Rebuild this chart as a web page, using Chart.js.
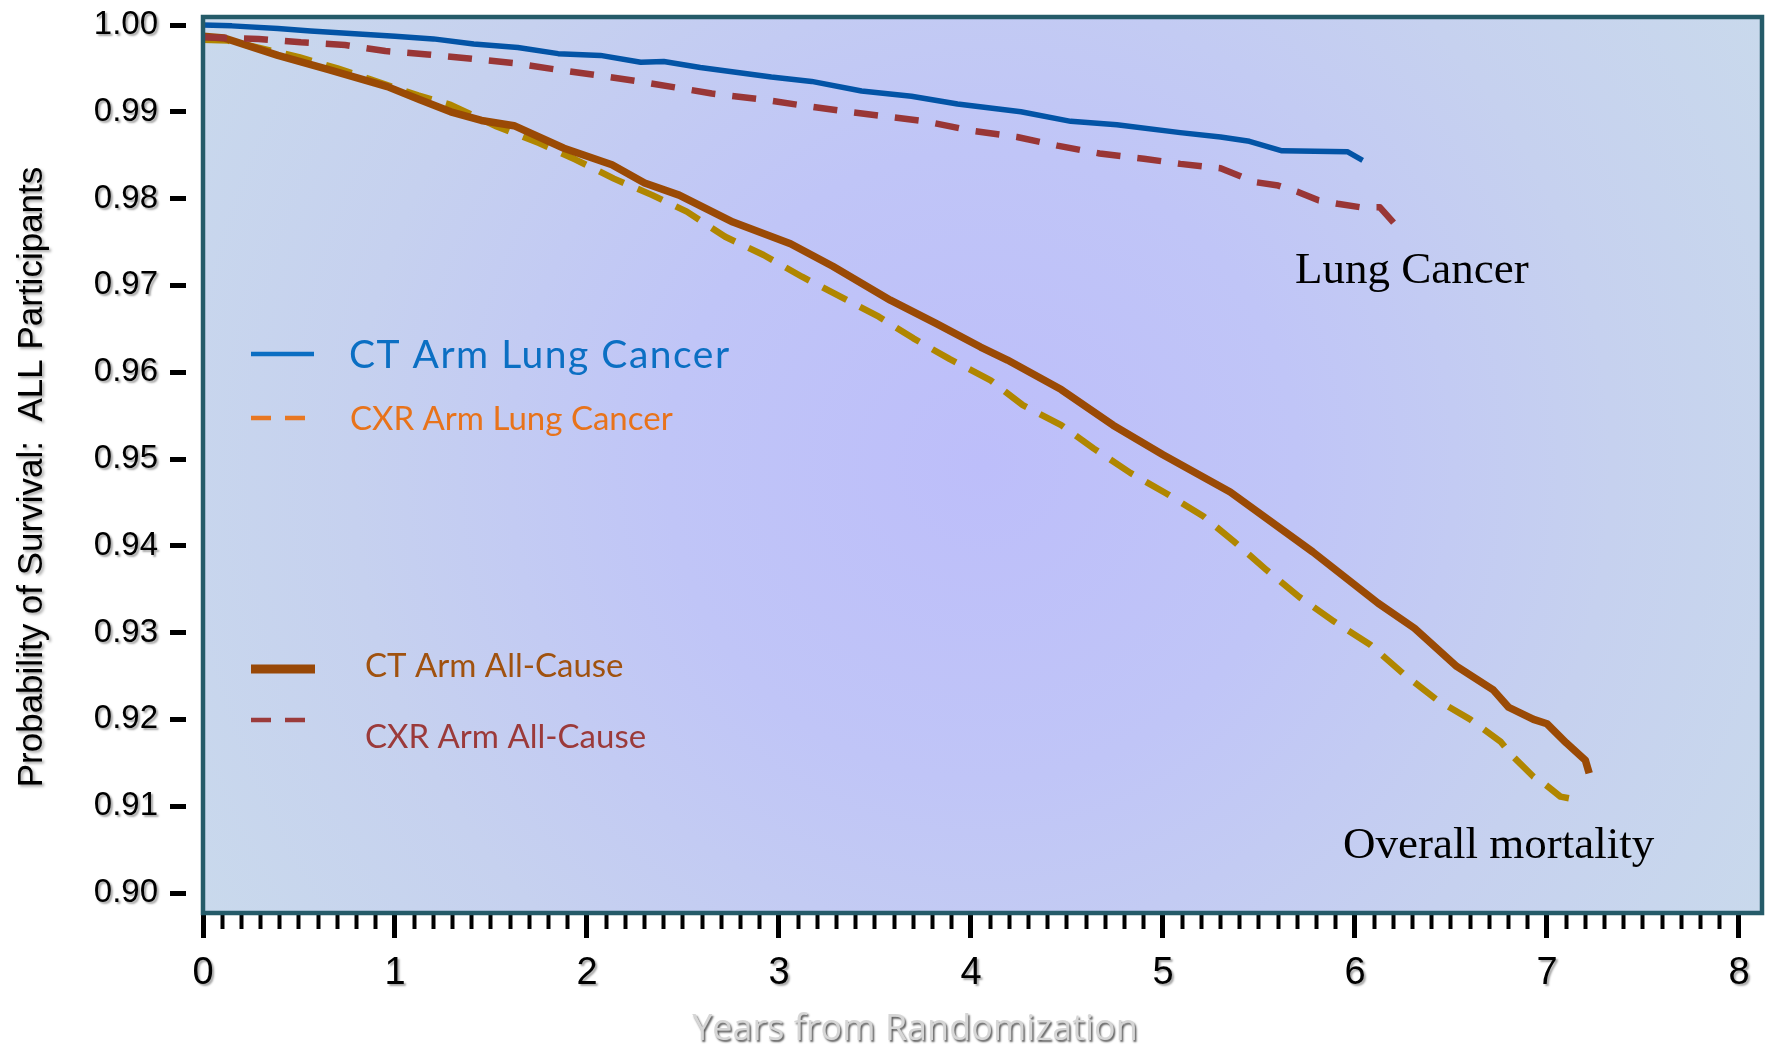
<!DOCTYPE html>
<html><head><meta charset="utf-8">
<script src="https://cdn.jsdelivr.net/npm/chart.js@4.4.1/dist/chart.umd.min.js"></script>
<style>html,body{margin:0;padding:0;background:#fff;overflow:hidden}canvas{display:block}</style>
</head><body>
<canvas id="c" width="1771" height="1049"></canvas>
<script>
// ---- tick labels ----
const yTicks = [0.90, 0.91, 0.92, 0.93, 0.94, 0.95, 0.96, 0.97, 0.98, 0.99, 1.00];
const xMajor = [0, 1, 2, 3, 4, 5, 6, 7, 8];
const xLabels = ['0', '1', '2', '3', '4', '5', '6', '7', '8'];
const minorPerYear = 10;

// ---- series names ----
const seriesNames = ['CT Arm Lung Cancer', 'CXR Arm Lung Cancer', 'CT Arm All-Cause', 'CXR Arm All-Cause'];
const xTitle = 'Years from Randomization';
const yTitle = 'Probability of Survival:  ALL Participants';
const noteLung = 'Lung Cancer';
const noteAll = 'Overall mortality';

// ---- data (years, survival probability) ----
const ctLungX = [0, 0.15, 0.39, 0.56, 0.79, 1.0, 1.2, 1.41, 1.64, 1.85, 2.07, 2.28, 2.4, 2.59, 2.96, 3.17, 3.43, 3.69, 3.93, 4.26, 4.52, 4.76, 5.09, 5.3, 5.45, 5.62, 5.96, 6.04];
const ctLungY = [1.0, 0.9999, 0.9996, 0.9993, 0.999, 0.9987, 0.9984, 0.9978, 0.9974, 0.9967, 0.9965, 0.9957, 0.9958, 0.9951, 0.994, 0.9935, 0.9924, 0.9918, 0.9909, 0.99, 0.9889, 0.9885, 0.9876, 0.9871, 0.9866, 0.9855, 0.9854, 0.9844];

const cxrLungX = [0, 0.29, 0.51, 0.74, 0.95, 1.17, 1.4, 1.62, 1.83, 2.06, 2.27, 2.49, 2.65, 2.92, 3.1, 3.36, 3.58, 3.76, 4.01, 4.24, 4.45, 4.67, 4.9, 5.09, 5.3, 5.48, 5.6, 5.7, 5.81, 5.91, 6.03, 6.13, 6.21];
const cxrLungY = [0.9986, 0.9984, 0.998, 0.9977, 0.997, 0.9966, 0.9961, 0.9956, 0.9949, 0.9942, 0.9935, 0.9927, 0.9921, 0.9914, 0.9908, 0.99, 0.9894, 0.9889, 0.9878, 0.9871, 0.9861, 0.9852, 0.9846, 0.984, 0.9835, 0.9819, 0.9815, 0.9808, 0.9798, 0.9794, 0.979, 0.979, 0.977];

const ctAllX = [0, 0.11, 0.39, 0.65, 0.96, 1.13, 1.29, 1.45, 1.62, 1.88, 2.13, 2.30, 2.48, 2.76, 3.06, 3.28, 3.58, 3.82, 4.05, 4.19, 4.47, 4.74, 5.0, 5.35, 5.78, 6.12, 6.31, 6.53, 6.72, 6.8, 6.93, 7.0, 7.1, 7.2, 7.22];
const ctAllY = [0.9987, 0.9985, 0.9965, 0.9949, 0.9929, 0.9914, 0.99, 0.989, 0.9884, 0.9858, 0.9839, 0.9818, 0.9804, 0.9773, 0.9748, 0.9722, 0.9683, 0.9656, 0.9629, 0.9614, 0.958, 0.9539, 0.9505, 0.9462, 0.9393, 0.9334, 0.9305, 0.9261, 0.9234, 0.9214, 0.92, 0.9195, 0.9173, 0.9153, 0.9138];

const cxrAllX = [0, 0.13, 0.5, 0.7, 1.12, 1.29, 1.53, 1.75, 1.94, 2.14, 2.34, 2.52, 2.72, 2.92, 3.12, 3.32, 3.52, 3.70, 3.89, 4.1, 4.27, 4.47, 4.64, 4.83, 5.02, 5.21, 5.37, 5.54, 5.71, 5.89, 6.08, 6.25, 6.43, 6.6, 6.76, 6.82, 6.93, 6.98, 7.07, 7.19];
const cxrAllY = [0.9983, 0.9982, 0.9963, 0.995, 0.9919, 0.9908, 0.9883, 0.9864, 0.9845, 0.9823, 0.9804, 0.9785, 0.9756, 0.9735, 0.971, 0.9687, 0.9664, 0.9639, 0.9615, 0.9591, 0.9562, 0.9539, 0.9512, 0.9484, 0.946, 0.9434, 0.9405, 0.9372, 0.9341, 0.9313, 0.9286, 0.9253, 0.9222, 0.92, 0.9174, 0.9158, 0.9134, 0.9127, 0.9111, 0.9106];

// ---- styles ----
const NARROW = '"Liberation Sans Narrow", "Liberation Sans", Arial, sans-serif';
const pts = (xs, ys) => xs.map((x, i) => ({x: x, y: ys[i]}));
const isMajor = v => xMajor.some(m => Math.abs(m - v) < 1e-6);
const minorTicks = [];
for (let i = 0; i <= xMajor[xMajor.length - 1] * minorPerYear; i++) minorTicks.push(i / minorPerYear);
const noPad = s => { s.paddingTop = 0; s.paddingBottom = 0; s.paddingLeft = 0; s.paddingRight = 0; };

const deco = {
  id: 'deco',
  beforeDraw(chart) {
    const {ctx, chartArea: a} = chart;
    ctx.save();
    const cx = a.left + (a.right - a.left) * 0.50, cy = a.top + (a.bottom - a.top) * 0.50;
    const g = ctx.createRadialGradient(cx, cy, 0, cx, cy, 900);
    g.addColorStop(0, '#bdbefa');
    g.addColorStop(0.35, '#c0c5f7');
    g.addColorStop(0.7, '#c6d1ef');
    g.addColorStop(1, '#c9d9ec');
    ctx.fillStyle = g;
    ctx.fillRect(a.left, a.top, a.right - a.left, a.bottom - a.top);
    ctx.restore();
  },
  afterDatasetsDraw(chart) {
    const {ctx, chartArea: a} = chart;
    ctx.save();
    // frame
    ctx.strokeStyle = '#255b69';
    ctx.lineWidth = 4.5;
    ctx.strokeRect(a.left, a.top, a.right - a.left, a.bottom - a.top);
    // legend samples
    const seg = (x1, x2, y, w, col, dash) => {
      ctx.beginPath(); ctx.setLineDash(dash || []); ctx.lineWidth = w; ctx.strokeStyle = col;
      ctx.moveTo(x1, y); ctx.lineTo(x2, y); ctx.stroke(); ctx.setLineDash([]);
    };
    seg(251, 314, 354, 4.5, '#0b6ec2');
    seg(251, 305, 418, 4.5, '#e87722', [20, 14]);
    seg(251, 315, 669, 9, '#984807');
    seg(251, 305, 720, 4.5, '#9b3b3b', [20, 14]);
    ctx.textBaseline = 'alphabetic';
    ctx.textAlign = 'left';
    ctx.letterSpacing = '1.5px';
    ctx.font = '39px Lato, "Noto Sans", sans-serif';
    ctx.fillStyle = '#0b6fc3';
    ctx.fillText(seriesNames[0], 349, 368);
    ctx.letterSpacing = '0px';
    ctx.font = '33px Lato, "Noto Sans", sans-serif';
    ctx.fillStyle = '#e8731b';
    ctx.fillText(seriesNames[1], 350, 430);
    ctx.fillStyle = '#a0520f';
    ctx.fillText(seriesNames[2], 365, 677);
    ctx.fillStyle = '#9b3a3a';
    ctx.fillText(seriesNames[3], 365, 748);
    // annotations
    ctx.font = '45px "Liberation Serif", "Times New Roman", serif';
    ctx.fillStyle = '#000';
    ctx.fillText(noteLung, 1295, 283);
    ctx.fillText(noteAll, 1343, 858);
    ctx.restore();
    // shadow for tick labels (drawn next, layer z=1)
    ctx.save();
    ctx.shadowColor = 'rgba(0,0,0,0.35)';
    ctx.shadowOffsetX = 2; ctx.shadowOffsetY = 2; ctx.shadowBlur = 2;
  },
  afterDraw(chart) {
    const {ctx} = chart;
    ctx.restore();
    ctx.save();
    // y title
    ctx.translate(32, 477);
    ctx.rotate(-Math.PI / 2);
    ctx.font = '35px ' + NARROW;
    ctx.textAlign = 'center'; ctx.textBaseline = 'middle';
    ctx.fillStyle = '#000';
    ctx.shadowColor = 'rgba(0,0,0,0.35)';
    ctx.shadowOffsetX = 2; ctx.shadowOffsetY = 2; ctx.shadowBlur = 3;
    ctx.fillText(yTitle, 0, 0);
    ctx.restore();
    ctx.save();
    // x title
    ctx.font = '36px "Open Sans", sans-serif';
    ctx.textAlign = 'center'; ctx.textBaseline = 'middle';
    ctx.fillStyle = '#d6d6d6';
    ctx.shadowColor = 'rgba(0,0,0,0.65)';
    ctx.shadowOffsetX = 1.5; ctx.shadowOffsetY = 1.5; ctx.shadowBlur = 2;
    ctx.fillText(xTitle, 915, 1030);
    ctx.restore();
  }
};

new Chart(document.getElementById('c').getContext('2d'), {
  type: 'line',
  data: {
    datasets: [
      {label: seriesNames[0], data: pts(ctLungX, ctLungY), borderColor: '#0354a6', borderWidth: 5.5},
      {label: seriesNames[1], data: pts(cxrLungX, cxrLungY), borderColor: '#993636', borderWidth: 6.5, borderDash: [24, 17]},
      {label: seriesNames[2], data: pts(ctAllX, ctAllY), borderColor: '#9a4a05', borderWidth: 7.5},
      {label: seriesNames[3], data: pts(cxrAllX, cxrAllY), borderColor: '#b08600', borderWidth: 6.5, borderDash: [27, 15]}
    ]
  },
  options: {
    responsive: false, animation: false, devicePixelRatio: 1,
    layout: {padding: {top: 17, right: 9, left: 0, bottom: 0}},
    elements: {point: {radius: 0}, line: {tension: 0, fill: false, borderCapStyle: 'butt', borderJoinStyle: 'round'}},
    plugins: {legend: {display: false}, tooltip: {enabled: false}},
    scales: {
      x: {
        type: 'linear', min: 0, max: 8.12,
        afterFit(s) { s.height = 136; noPad(s); },
        afterBuildTicks(s) { s.ticks = minorTicks.map(v => ({value: v})); },
        border: {display: false},
        grid: {
          drawOnChartArea: false, drawTicks: true, tickLength: 25, color: '#000', tickColor: '#000',
          tickWidth: c => (c.tick && isMajor(c.tick.value)) ? 5 : 4,
          tickBorderDash: c => (c.tick && isMajor(c.tick.value)) ? [] : [16, 100]
        },
        ticks: {
          z: 1, padding: 17, color: '#000', autoSkip: false, maxRotation: 0,
          font: {family: NARROW, size: 38, lineHeight: 1},
          callback: v => { const i = xMajor.findIndex(m => Math.abs(m - v) < 1e-6); return i >= 0 ? xLabels[i] : ''; }
        }
      },
      y: {
        type: 'linear', min: 0.897696, max: 1.000922,
        afterFit(s) { s.width = 203; noPad(s); },
        afterBuildTicks(s) { s.ticks = yTicks.map(v => ({value: v})); },
        border: {display: false},
        grid: {drawOnChartArea: false, drawTicks: true, tickLength: 33, color: '#000', tickColor: '#000', tickWidth: 5, tickBorderDash: [16, 100]},
        ticks: {
          z: 1, padding: 12, color: '#000', autoSkip: false,
          font: {family: NARROW, size: 33, lineHeight: 1},
          callback: v => v.toFixed(2)
        }
      }
    }
  },
  plugins: [deco]
});
</script>
</body></html>
